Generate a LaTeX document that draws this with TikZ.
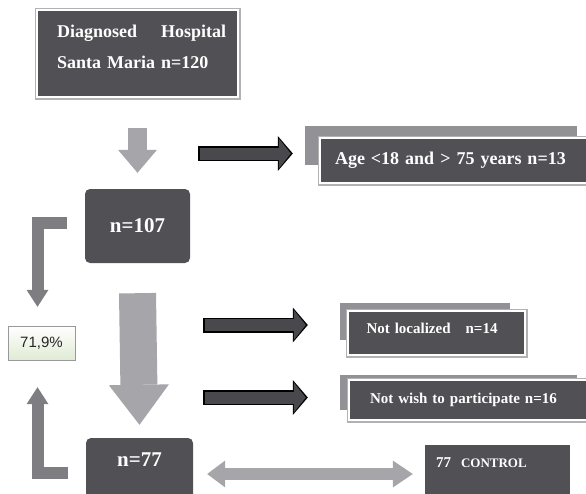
\documentclass[tikz,border=0pt]{standalone}
\usepackage{fontspec}
\setmainfont{Liberation Serif}
\newfontfamily\pctfont{Liberation Sans}
\usetikzlibrary{arrows.meta}

\definecolor{boxgray}{RGB}{80,80,85}
\definecolor{backgray}{RGB}{145,145,150}
\definecolor{arrowgray}{RGB}{165,165,170}
\definecolor{sidegray}{RGB}{125,125,130}
\definecolor{arrowdark}{RGB}{72,72,77}
\definecolor{pctgreen}{RGB}{224,235,212}

\begin{document}
\begin{tikzpicture}[x=1pt,y=-1pt,
  darkbox/.style={fill=boxgray, draw=white, line width=2.5pt,
    preaction={draw=black!30, line width=5pt}, text=white, inner sep=0pt},
  backbox/.style={fill=backgray, inner sep=0pt},
  roundbox/.style={fill=boxgray, rounded corners=5pt, text=white, inner sep=0pt,
    font=\bfseries\fontsize{21}{25}\selectfont},
  sidetext/.style={align=left, text width=#1, font=\bfseries\fontsize{15}{18}\selectfont},
  grayarrow/.style n args={3}{draw=arrowgray, line width=#1,
    -{Triangle[length=#2,width=#3,line width=0pt]}},
  sidearrow/.style={draw=sidegray, line width=12pt, line join=miter,
    -{Triangle[length=17pt,width=22pt,line width=0pt]}},
  darkarrow/.style={draw=arrowdark, line width=12pt,
    -{Triangle[length=12pt,width=30pt,line width=0pt]}, shorten >=2pt, shorten <=1.5pt,
    preaction={draw=black, line width=15pt,
      -{Triangle[length=15pt,width=35pt,line width=0pt]}, shorten >=0pt, shorten <=0pt}}
]
\useasboundingbox (0,0) rectangle (586,493);
% back boxes
\node[backbox, minimum width=272pt, minimum height=39pt] (agebg) at (441,145.5) {};
\node[backbox, minimum width=170pt, minimum height=37pt] (notlocbg) at (425,321.5) {};
\node[backbox, minimum width=237pt, minimum height=35pt] (notwishbg) at (458.5,392.5) {};
%
\node[darkbox, minimum width=201pt, minimum height=87pt] (top) at (137.5,53.5) {};
\node[anchor=north west, align=left, text width=169pt, inner sep=0pt, text=white,
  font=\bfseries\fontsize{18}{31}\selectfont] (toptext) at (57,25)
  {Diagnosed\hfill Hospital\\Santa Maria n=120};
\node[roundbox, minimum width=105pt, minimum height=74pt] (n107) at (137.5,226) {n=107};
\node[darkbox, sidetext=240pt, font=\bfseries\fontsize{18}{22}\selectfont,
  minimum width=270pt, minimum height=45pt] (age) at (455,160.5) {Age <18 and > 75 years n=13};
\node[draw=black!40, top color=white, bottom color=pctgreen, minimum width=67pt,
  minimum height=34pt, inner sep=0pt, text=black!85,
  font=\pctfont\fontsize{15}{18}\selectfont] (pct) at (41.5,343) {71,9\%};
\node[darkbox, sidetext=140pt, minimum width=177pt, minimum height=44pt,
  text height=10pt, text depth=10pt] (notloc) at (436.5,333) {Not localized~~ n=14};
\node[darkbox, sidetext=204pt, minimum width=246pt, minimum height=40pt]
  (notwish) at (472,400) {Not wish to participate n=16};
\node[roundbox, minimum width=107pt, minimum height=62pt,
  text height=14pt, text depth=19pt] (n77) at (139.5,469) {n=77};
\node[fill=boxgray, inner sep=0pt, text=white, sidetext=123pt, minimum width=145pt,
  minimum height=55pt, text height=10pt, text depth=21pt] (control) at (497.5,472.5)
  {77~~{\fontsize{13}{15}\selectfont CONTROL}};
% gray arrows
\draw[grayarrow={19pt}{23pt}{39pt}] ([yshift=-30pt]top.south) -- ([yshift=16pt]n107.north);
\draw[grayarrow={37pt}{40pt}{60pt}] ([yshift=-30pt]n107.south) -- ([yshift=13pt]n77.north);
\draw[sidearrow] ([xshift=-18pt,yshift=3pt]n107.west) -| ([xshift=-4pt,yshift=19pt]pct.north);
\draw[sidearrow] ([xshift=-18pt,yshift=-4pt]n77.west) -| ([xshift=-4pt,yshift=-27pt]pct.south);
\draw[draw=arrowgray, line width=12pt,
  {Triangle[length=18pt,width=27pt,line width=0pt]}-{Triangle[length=20pt,width=27pt,line width=0pt]}]
  ([xshift=14pt,yshift=-5pt]n77.east) -- ([xshift=-12pt,yshift=-1.5pt]control.west);
% dark arrows
\coordinate (d1) at (198,153.5);
\coordinate (d2) at (203,325);
\coordinate (d3) at (203,397.5);
\draw[darkarrow] (d1) -- ([xshift=-12pt]agebg.west |- d1);
\draw[darkarrow] (d2) -- ([xshift=-32pt]notlocbg.west |- d2);
\draw[darkarrow] (d3) -- ([xshift=-32pt]notwishbg.west |- d3);
\end{tikzpicture}
\end{document}
